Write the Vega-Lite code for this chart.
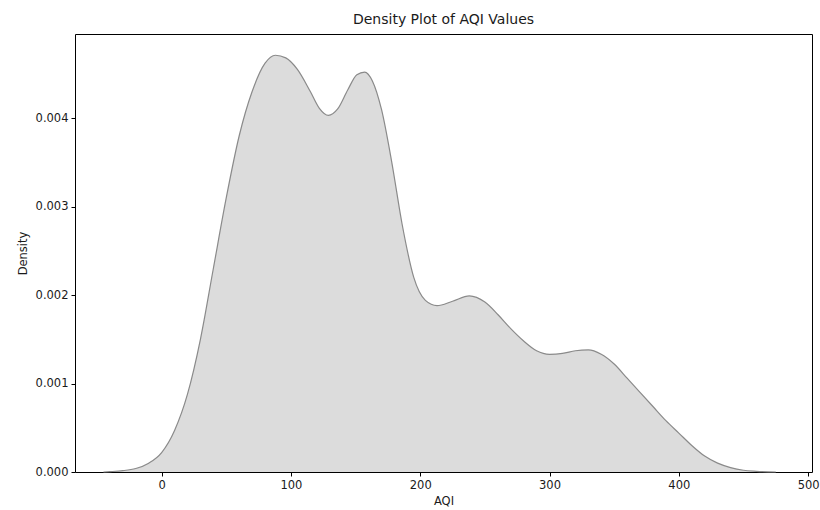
{
  "$schema": "https://vega.github.io/schema/vega-lite/v6.json",
  "width": 737,
  "height": 438,
  "autosize": {"type": "none"},
  "padding": {"left": 75, "top": 34, "right": 8, "bottom": 38},
  "background": "white",
  "config": {
    "font": "DejaVu Sans",
    "view": {"stroke": "#000000", "strokeWidth": 1},
    "axis": {
      "grid": false,
      "domain": false,
      "tickColor": "#000000",
      "tickSize": 4,
      "labelColor": "#1a1a1a",
      "labelFont": "DejaVu Sans",
      "labelFontSize": 11.5,
      "titleFont": "DejaVu Sans",
      "titleFontSize": 11.5,
      "titleFontWeight": "normal",
      "titleColor": "#1a1a1a"
    }
  },
  "title": {
    "text": "Density Plot of AQI Values",
    "font": "DejaVu Sans",
    "fontSize": 14,
    "fontWeight": "normal",
    "color": "#1a1a1a",
    "offset": 7
  },
  "data": {
    "values": [
      {"aqi": -45, "density": 0.0},
      {"aqi": -40, "density": 0.000004},
      {"aqi": -30, "density": 0.000015},
      {"aqi": -20, "density": 0.00004},
      {"aqi": -10, "density": 0.0001},
      {"aqi": 0, "density": 0.00022},
      {"aqi": 10, "density": 0.00047},
      {"aqi": 20, "density": 0.00088},
      {"aqi": 30, "density": 0.0015},
      {"aqi": 40, "density": 0.0023},
      {"aqi": 50, "density": 0.0031},
      {"aqi": 60, "density": 0.0038},
      {"aqi": 70, "density": 0.0043},
      {"aqi": 80, "density": 0.00462},
      {"aqi": 88, "density": 0.00471},
      {"aqi": 96, "density": 0.00468},
      {"aqi": 105, "density": 0.00455},
      {"aqi": 115, "density": 0.0043},
      {"aqi": 122, "density": 0.00411},
      {"aqi": 129, "density": 0.00403},
      {"aqi": 136, "density": 0.0041},
      {"aqi": 144, "density": 0.00432},
      {"aqi": 151, "density": 0.00449},
      {"aqi": 157, "density": 0.00452},
      {"aqi": 163, "density": 0.00442},
      {"aqi": 170, "density": 0.0041},
      {"aqi": 178, "density": 0.0035},
      {"aqi": 186, "density": 0.0028},
      {"aqi": 195, "density": 0.0022},
      {"aqi": 204, "density": 0.00194},
      {"aqi": 213, "density": 0.00188},
      {"aqi": 225, "density": 0.00193},
      {"aqi": 238, "density": 0.00199},
      {"aqi": 250, "density": 0.00192},
      {"aqi": 260, "density": 0.00178},
      {"aqi": 270, "density": 0.00162},
      {"aqi": 280, "density": 0.00148},
      {"aqi": 290, "density": 0.00137},
      {"aqi": 300, "density": 0.00133},
      {"aqi": 310, "density": 0.00134},
      {"aqi": 320, "density": 0.00137},
      {"aqi": 330, "density": 0.00138},
      {"aqi": 340, "density": 0.00133},
      {"aqi": 350, "density": 0.00122},
      {"aqi": 360, "density": 0.00106},
      {"aqi": 370, "density": 0.0009},
      {"aqi": 380, "density": 0.00074},
      {"aqi": 390, "density": 0.00058},
      {"aqi": 400, "density": 0.00044},
      {"aqi": 410, "density": 0.0003},
      {"aqi": 420, "density": 0.00018},
      {"aqi": 430, "density": 0.0001},
      {"aqi": 440, "density": 0.00005},
      {"aqi": 450, "density": 0.00002},
      {"aqi": 460, "density": 0.000008},
      {"aqi": 475, "density": 0.0}
    ]
  },
  "mark": {
    "type": "area",
    "interpolate": "monotone",
    "color": "#dcdcdc",
    "opacity": 1,
    "line": {"color": "#8a8a8a", "strokeWidth": 1.2}
  },
  "encoding": {
    "x": {
      "field": "aqi",
      "type": "quantitative",
      "title": "AQI",
      "scale": {"domain": [-67, 503], "nice": false, "zero": false},
      "axis": {"values": [0, 100, 200, 300, 400, 500], "labelPadding": 3, "titlePadding": 5}
    },
    "y": {
      "field": "density",
      "type": "quantitative",
      "title": "Density",
      "scale": {"domain": [0, 0.00495], "nice": false},
      "axis": {"values": [0, 0.001, 0.002, 0.003, 0.004], "format": ".3f", "labelPadding": 3, "titlePadding": 7}
    }
  }
}
